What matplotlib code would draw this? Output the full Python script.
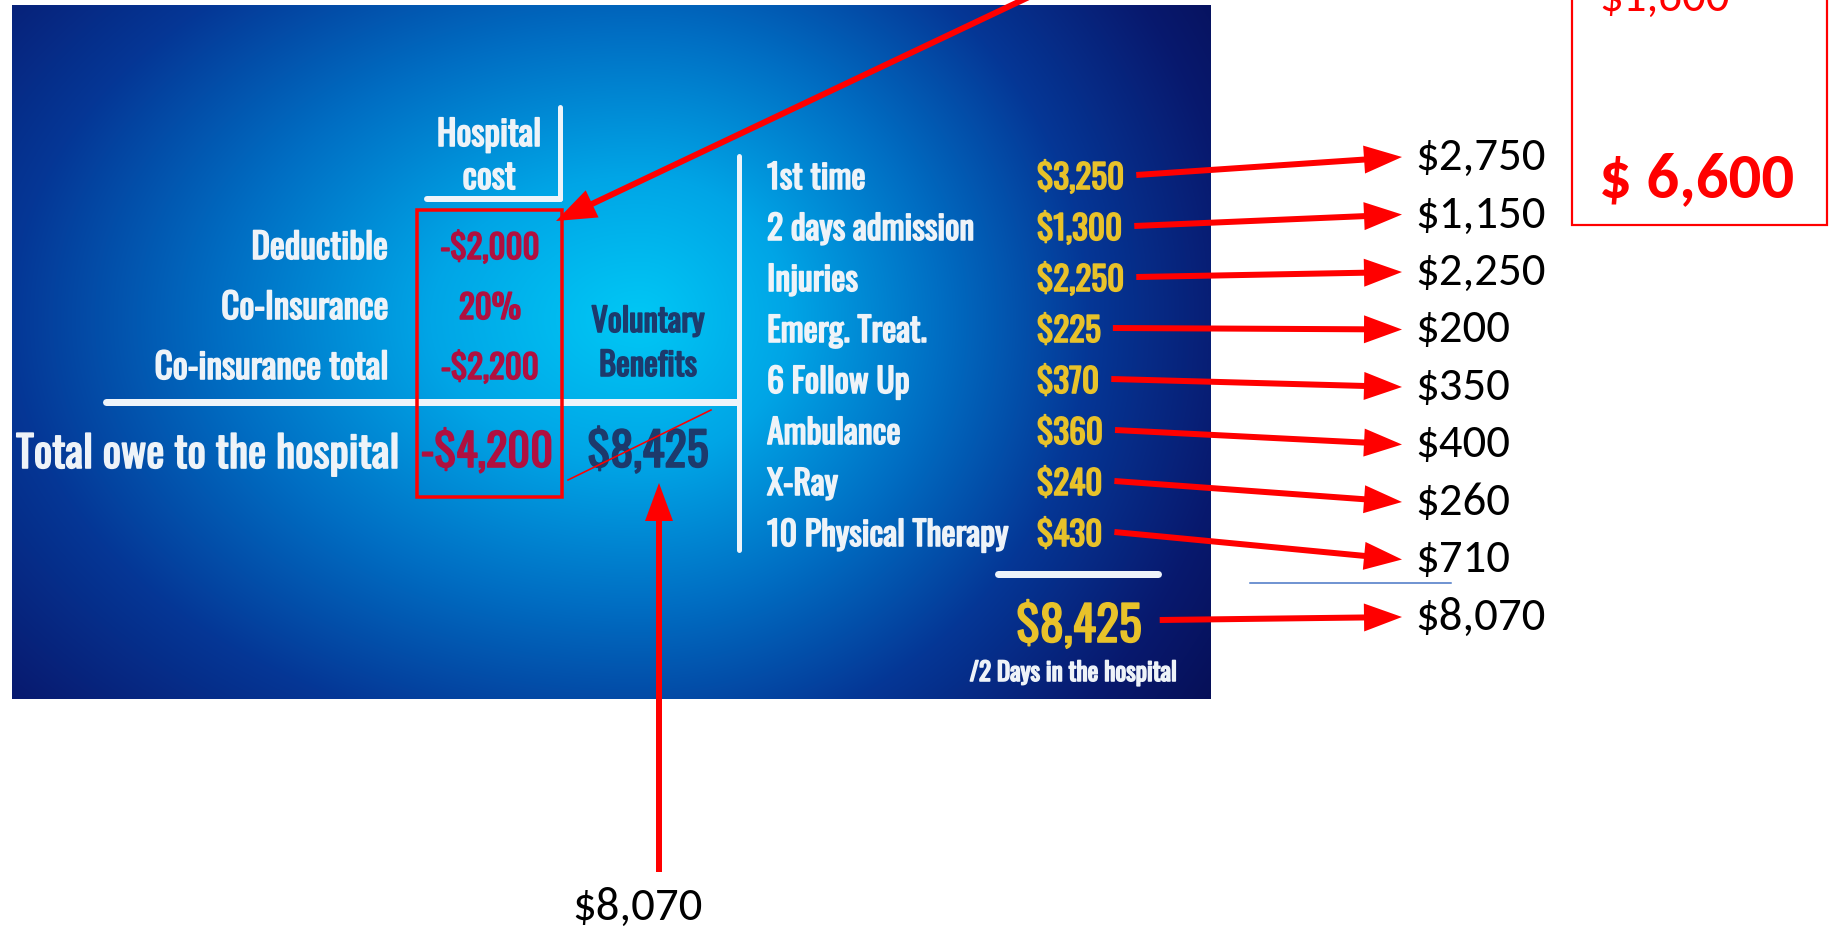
import numpy as np
import matplotlib
matplotlib.use('Agg')
import matplotlib.pyplot as plt
from matplotlib import font_manager as fm
from matplotlib.font_manager import FontProperties
from matplotlib.textpath import TextPath
from matplotlib.patches import Rectangle
import matplotlib.patheffects as pe

# ---------------- data ----------------
hospital_header = ['Hospital', 'cost']
hospital_labels = ['Deductible', 'Co-Insurance', 'Co-insurance total']
hospital_values = ['-$2,000', '20%', '-$2,200']
total_label = 'Total owe to the hospital'
hospital_total = '-$4,200'
voluntary_header = ['Voluntary', 'Benefits']
voluntary_total = 8425
benefit_items = ['1st time', '2 days admission', 'Injuries', 'Emerg. Treat.',
                 '6 Follow Up', 'Ambulance', 'X-Ray', '10 Physical Therapy']
benefit_values = [3250, 1300, 2250, 225, 370, 360, 240, 430]
benefit_total = 8425
benefit_note = '/2 Days in the hospital'
revised_values = [2750, 1150, 2250, 200, 350, 400, 260, 710]
revised_total = 8070
box_values = [1600, 6600]


def money(v):
    return f"${v:,}"


# ---------------- fonts ----------------
ttf = fm.fontManager.ttflist
names = {f.name for f in ttf}
cond_name, cond_stretch = None, 'normal'
for cand in ['Oswald', 'Bebas Neue', 'League Gothic', 'Fjalla One', 'Roboto Condensed',
             'Open Sans Condensed', 'Liberation Sans Narrow', 'DejaVu Sans Condensed',
             'Noto Sans Condensed', 'Arial Narrow']:
    if cand in names:
        cond_name = cand
        break
if cond_name is None:
    for fam in ['DejaVu Sans', 'Roboto', 'Noto Sans', 'Open Sans', 'Liberation Sans', 'Lato', 'Inter']:
        for f in ttf:
            if f.name == fam and str(f.stretch) in ('condensed', 'semi-condensed',
                                                     'extra-condensed', 'ultra-condensed'):
                cond_name, cond_stretch = fam, f.stretch
                break
        if cond_name:
            break
if cond_name is None:
    cond_name = 'DejaVu Sans'
COND = FontProperties(family=[cond_name, 'DejaVu Sans'], weight='bold', stretch=cond_stretch)

cal_name = 'DejaVu Sans'
for cand in ['Carlito', 'Calibri', 'Lato', 'Open Sans']:
    if cand in names:
        cal_name = cand
        break
CAL = FontProperties(family=[cal_name, 'DejaVu Sans'], weight='normal')
CALB = FontProperties(family=[cal_name, 'DejaVu Sans'], weight='bold')

DPI = 100


def px2pt(px):
    return px * 72.0 / DPI


def ink_w(s, fp):
    return TextPath((0, 0), s, size=100, prop=fp).get_extents().width / 100.0


def cap_ratio(fp):
    return TextPath((0, 0), 'H', size=100, prop=fp).get_extents().height / 100.0


def fit_size(strings, fp, cap_px, max_ws):
    em = cap_px / cap_ratio(fp)
    for s, mw in zip(strings, max_ws):
        w = ink_w(s, fp)
        if mw is not None and em * w > mw:
            em = mw / w
    return px2pt(em)


# ---------------- figure ----------------
fig = plt.figure(figsize=(18.3, 9.37), dpi=DPI)
ax = fig.add_axes([0, 0, 1, 1])

# background gradient of the slide image
PX0, PX1, PY0, PY1 = 12, 1211, 6, 700
xs = np.linspace(PX0, PX1, 600)
ys = np.linspace(PY0, PY1, 350)
X, Y = np.meshgrid(xs, ys)
cx, cy = 640, 320
rx = np.where(X < cx, 700.0, 500.0)
d = np.sqrt(((X - cx) / rx) ** 2 + ((Y - cy) / 480.0) ** 2)
stops = [0.0, 0.3, 0.6, 0.9, 1.2, 1.5]
Rs = [0, 0, 0, 5, 8, 5]
Gs = [200, 165, 110, 55, 25, 10]
Bs = [245, 230, 195, 150, 110, 75]
img = np.dstack([np.interp(d, stops, c) for c in (Rs, Gs, Bs)]) / 255.0
ax.imshow(img, extent=(PX0, PX1, PY1, PY0), interpolation='bilinear', aspect='auto', zorder=0)
ax.set_xlim(0, 1830)
ax.set_ylim(937, 0)
ax.axis('off')

WHITE = '#eef3f8'
CRIMSON = '#b01040'
NAVY = '#1d3a6c'
GOLD = '#e8c22a'
RED = '#ff0000'


def txt(x, y, s, fp, size, color, ha='left', z=3, bold=False):
    t = ax.text(x, y, s, fontproperties=fp, fontsize=size, ha=ha, va='baseline',
                color=color, zorder=z)
    if bold:
        t.set_path_effects([pe.withStroke(linewidth=px2pt(1.6), foreground=color)])
    return t


# white rules
def rule(xx, yy, wpx):
    ax.plot(xx, yy, color='#eef4fa', lw=px2pt(wpx), solid_capstyle='round', zorder=2)


rule([560, 560], [108, 200], 5)
rule([427, 560], [200, 200], 6)
rule([106, 737], [403, 403], 7)
rule([739, 739], [157, 551], 5)
rule([998, 1158], [575, 575], 7)

# hospital header
s = fit_size(hospital_header, COND, 35, [100, 55])
for lab, yb in zip(hospital_header, [147, 190]):
    txt(489, yb, lab, COND, s, WHITE, ha='center', bold=True)

# left labels and values
s = fit_size(hospital_labels, COND, 36, [135, 165, 230])
sv = fit_size(hospital_values, COND, 29, [96, 60, 96])
for i, (lab, val) in enumerate(zip(hospital_labels, hospital_values)):
    yb = 260 + 60 * i
    txt(388, yb, lab, COND, s, WHITE, ha='right', bold=True)
    txt(490, yb, val, COND, sv, CRIMSON, ha='center', bold=True)

s = fit_size([total_label], COND, 49, [380])
txt(400, 469, total_label, COND, s, WHITE, ha='right', bold=True)
s = fit_size([hospital_total], COND, 48, [128])
txt(487, 468, hospital_total, COND, s, CRIMSON, ha='center', bold=True)

# voluntary benefits
s = fit_size(voluntary_header, COND, 33, [112, 100])
for lab, yb in zip(voluntary_header, [333, 377]):
    txt(648, yb, lab, COND, s, NAVY, ha='center', bold=True)
s = fit_size([money(voluntary_total)], COND, 48, [118])
txt(648, 468, money(voluntary_total), COND, s, NAVY, ha='center', bold=True)

# benefit items and values
si = fit_size(benefit_items, COND, 33, [240] * len(benefit_items))
vals = [money(v) for v in benefit_values]
sv = fit_size(vals, COND, 33, [84] * len(vals))
renderer = fig.canvas.get_renderer()
inv = ax.transData.inverted()
starts = []
for i, (item, val) in enumerate(zip(benefit_items, vals)):
    yb = 190 + 51 * i
    txt(767, yb, item, COND, si, WHITE, ha='left', bold=True)
    t = txt(1037, yb, val, COND, sv, GOLD, ha='left', bold=True)
    bb = t.get_window_extent(renderer)
    xr = inv.transform((bb.x1, bb.y0))[0]
    starts.append((xr + 12, yb - 14))

s = fit_size([money(benefit_total)], COND, 50, [122])
t = txt(1079, 643, money(benefit_total), COND, s, GOLD, ha='center', bold=True)
bb = t.get_window_extent(renderer)
starts.append((inv.transform((bb.x1, bb.y0))[0] + 18, 621))
s = fit_size([benefit_note], COND, 25, [205])
txt(1073, 682, benefit_note, COND, s, WHITE, ha='center', bold=True)

# ---------------- annotations ----------------
def arrow(x0, y0, x1, y1, w=6, hw=28, hl=38):
    ax.arrow(x0, y0, x1 - x0, y1 - y0, width=w, head_width=hw, head_length=hl,
             length_includes_head=True, fc=RED, ec='none', zorder=5)


sn = px2pt(30 / cap_ratio(CAL))
rev = [money(v) for v in revised_values] + [money(revised_total)]
for i, (lab, st) in enumerate(zip(rev, starts)):
    yb = 170 + 57.5 * i
    txt(1415, yb, lab, CAL, sn, 'black', ha='left', z=6)
    arrow(st[0], st[1], 1402, yb - 12)

ax.plot([1250, 1451], [584, 584], color='#4472c4', lw=px2pt(1.5), zorder=6)

# bottom value with vertical arrow
txt(637, 920, money(revised_total), CAL, sn, 'black', ha='center', z=6)
arrow(659, 873, 659, 484)

# diagonal arrow into the hospital box
arrow(1050, -12, 556, 222, w=6, hw=30, hl=40)

# red box around hospital values
ax.add_patch(Rectangle((417, 211), 145, 287, fill=False, ec=RED, lw=px2pt(3.5), zorder=5))
# thin strike line across voluntary total
ax.plot([568, 711], [481, 411], color=RED, lw=px2pt(1.6), zorder=5)

# top-right box
ax.add_patch(Rectangle((1572, -10), 255, 236, fill=False, ec=RED, lw=px2pt(2.2), zorder=5))
txt(1599, 11, money(box_values[0]), CAL, sn, RED, ha='left', z=6)
sb = px2pt(42 / cap_ratio(CALB))
txt(1599, 197, f"$ {box_values[1]:,}", CALB, sb, RED, ha='left', z=6)

fig.savefig('out.png', dpi=DPI)
